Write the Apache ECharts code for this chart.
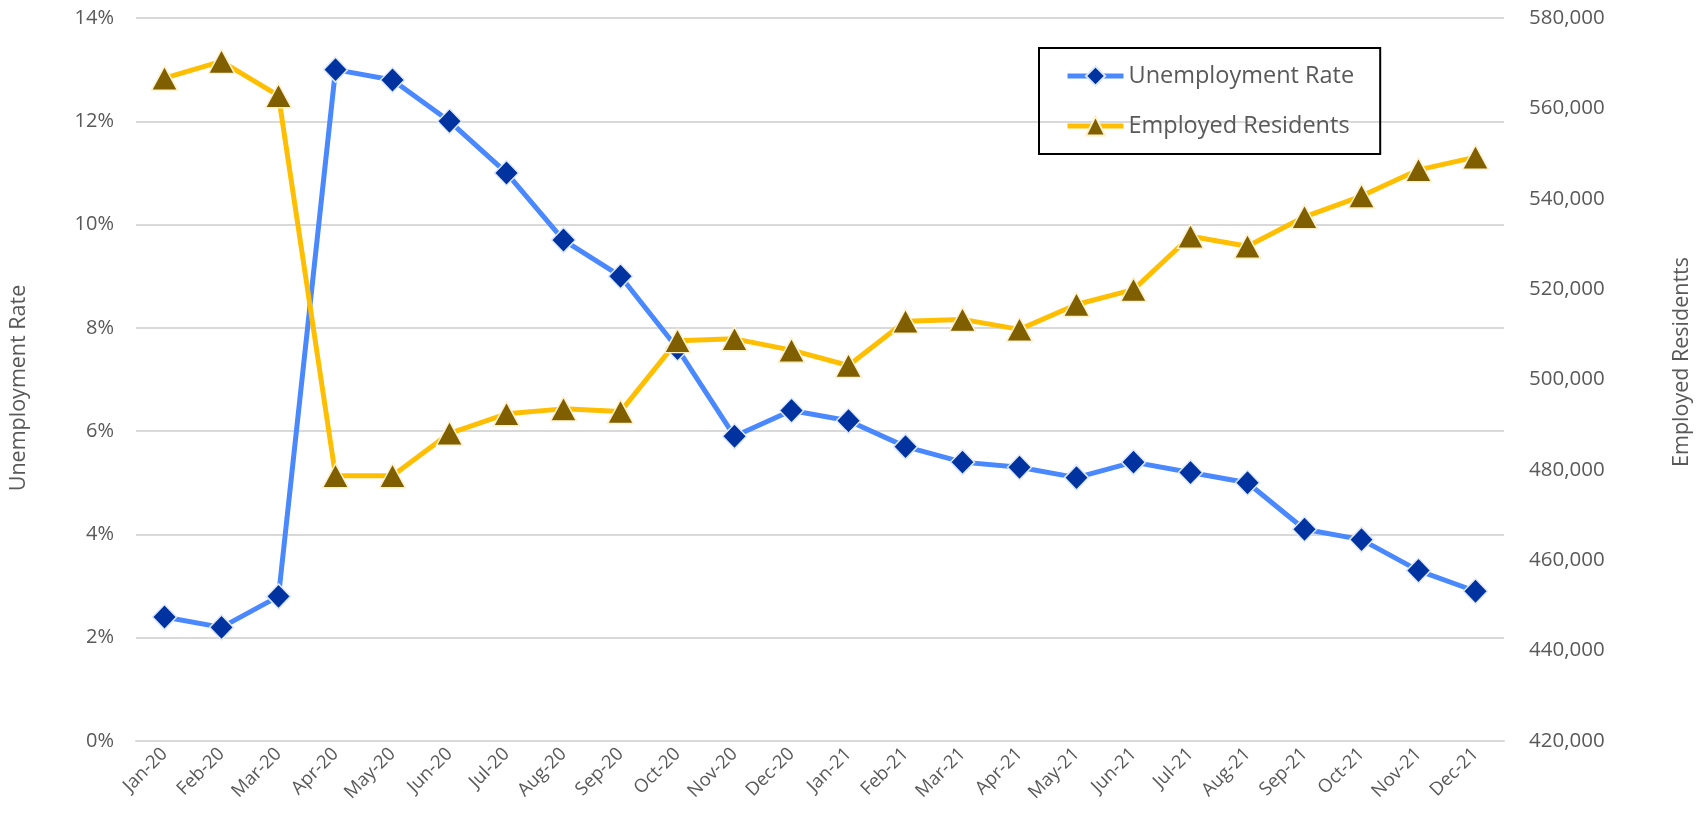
<!DOCTYPE html>
<html>
<head>
<meta charset="utf-8">
<title>Unemployment Rate and Employed Residents</title>
<script src="https://cdn.jsdelivr.net/npm/echarts@6/dist/echarts.min.js"></script>
<style>
  html, body { margin: 0; padding: 0; background: #fff; }
  #chart { width: 1701px; height: 829px; }
</style>
</head>
<body>
<div id="chart"></div>
<script>
// months on the category axis
const months = ['Jan-20', 'Feb-20', 'Mar-20', 'Apr-20', 'May-20', 'Jun-20', 'Jul-20', 'Aug-20',
  'Sep-20', 'Oct-20', 'Nov-20', 'Dec-20', 'Jan-21', 'Feb-21', 'Mar-21', 'Apr-21', 'May-21',
  'Jun-21', 'Jul-21', 'Aug-21', 'Sep-21', 'Oct-21', 'Nov-21', 'Dec-21'];

// unemployment rate, percent (left axis)
const unemploymentRate = [2.4, 2.2, 2.8, 13.0, 12.8, 12.0, 11.0, 9.7, 9.0, 7.6, 5.9, 6.4,
  6.2, 5.7, 5.4, 5.3, 5.1, 5.4, 5.2, 5.0, 4.1, 3.9, 3.3, 2.9];

// employed residents (right axis)
const employedResidents = [566700, 570400, 562800, 478700, 478700, 488100, 492400, 493500,
  492900, 508600, 509000, 506500, 503100, 512900, 513300, 511100, 516600, 519900,
  531700, 529500, 536000, 540600, 546400, 549200];

const textColor = '#595959';
const font = '"Open Sans", "DejaVu Sans", sans-serif';

const chart = echarts.init(document.getElementById('chart'));

const option = {
  animation: false,
  textStyle: { fontFamily: font },
  grid: { left: 127, right: 190, top: 18, bottom: 88 },
  legend: {
    orient: 'vertical',
    left: 1039,
    top: 48,
    padding: [16, 26, 16, 26],
    itemGap: 26,
    itemWidth: 56,
    itemHeight: 24,
    borderColor: '#000',
    borderWidth: 2,
    lineStyle: { width: 5 },
    textStyle: { color: textColor, fontSize: 23.5, fontFamily: font },
    data: ['Unemployment Rate', 'Employed Residents']
  },
  xAxis: {
    type: 'category',
    boundaryGap: true,
    data: months,
    axisLine: { show: true, lineStyle: { color: '#D9D9D9', width: 2 } },
    axisTick: { show: false },
    axisLabel: {
      interval: 0,
      rotate: 45,
      margin: 10,
      color: textColor,
      fontSize: 18.5,
      fontFamily: font
    }
  },
  yAxis: [
    {
      type: 'value',
      min: 0,
      max: 14,
      interval: 2,
      name: 'Unemployment Rate',
      nameLocation: 'middle',
      nameRotate: 90,
      nameGap: 106,
      nameTextStyle: { color: textColor, fontSize: 21.5, fontFamily: font, padding: [0, 17, 0, 0] },
      axisLine: { show: false },
      axisTick: { show: false },
      axisLabel: { formatter: '{value}%', color: textColor, fontSize: 20, margin: 22 },
      splitLine: { lineStyle: { color: '#D9D9D9', width: 2 } }
    },
    {
      type: 'value',
      min: 420000,
      max: 580000,
      interval: 20000,
      name: 'Employed Residentts',
      nameLocation: 'middle',
      nameRotate: 90,
      nameGap: 167,
      nameTextStyle: { color: textColor, fontSize: 21.5, fontFamily: font, padding: [0, 0, 0, 35] },
      axisLine: { show: false },
      axisTick: { show: false },
      axisLabel: {
        formatter: v => v.toLocaleString('en-US'),
        color: textColor,
        fontSize: 20.5,
        margin: 25
      },
      splitLine: { show: false }
    }
  ],
  series: [
    {
      name: 'Unemployment Rate',
      type: 'line',
      yAxisIndex: 0,
      data: unemploymentRate,
      symbol: 'diamond',
      symbolSize: [24, 25],
      lineStyle: { color: '#4A88FF', width: 5 },
      itemStyle: { color: '#0033A0', borderColor: '#DCE8FF', borderWidth: 1.5 }
    },
    {
      name: 'Employed Residents',
      type: 'line',
      yAxisIndex: 1,
      data: employedResidents,
      symbol: 'triangle',
      symbolSize: [26, 24],
      lineStyle: { color: '#FFBF00', width: 5 },
      itemStyle: { color: '#7F5F00', borderColor: '#FFF0C8', borderWidth: 1.5 }
    }
  ]
};

chart.setOption(option);
</script>
</body>
</html>
